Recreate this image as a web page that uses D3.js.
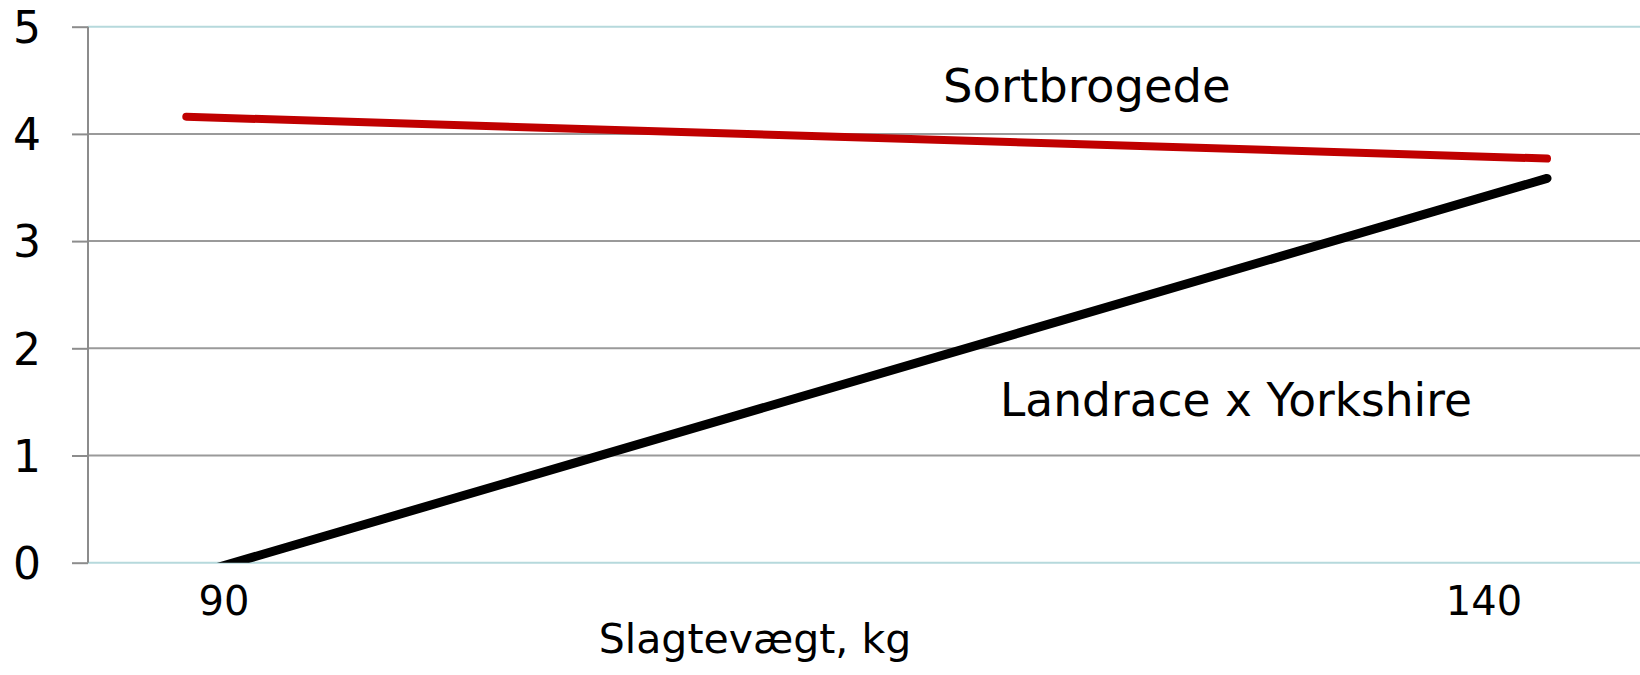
<!DOCTYPE html>
<html>
<head>
<meta charset="utf-8">
<script src="https://cdn.jsdelivr.net/npm/d3@7"></script>
<style>
  body { margin: 0; background: #fff; }
  text { font-family: "DejaVu Sans", sans-serif; fill: #000; }
</style>
</head>
<body>
<div id="chart"></div>
<script>
// data
var xValues = [88.5, 142.5];          // slagtevægt, kg (line end points)
var sortbrogede = [4.16, 3.77];
var landrace = [-0.13, 3.585];         // first point sits just below 0, clipped by the axis
var xTicks = [90, 140];
var yTicks = [0, 1, 2, 3, 4, 5];
var seriesNames = ["Sortbrogede", "Landrace x Yorkshire"];
var xTitle = "Slagtevægt, kg";

var width = 1640, height = 675;
var margin = {top: 26.7, right: 0, bottom: 112.3, left: 88};
var innerW = width - margin.left - margin.right,
    innerH = height - margin.top - margin.bottom;

var svg = d3.select("#chart").append("svg")
    .attr("width", width)
    .attr("height", height);

var g = svg.append("g")
    .attr("transform", "translate(" + margin.left + "," + margin.top + ")");

// scales
var x = d3.scaleLinear().domain([84.6, 146.19]).range([0, innerW]);
var y = d3.scaleLinear().domain([0, 5]).range([innerH, 0]);

// clip so values below 0 are cut at the axis
svg.append("defs").append("clipPath").attr("id", "plot")
  .append("rect").attr("x", -20).attr("y", -20)
    .attr("width", innerW + 40).attr("height", innerH + 20);

// gridlines
g.selectAll("line.grid").data(yTicks).enter().append("line")
    .attr("class", "grid")
    .attr("x1", 0).attr("x2", innerW)
    .attr("y1", function(d) { return y(d); })
    .attr("y2", function(d) { return y(d); })
    .style("stroke", function(d) { return (d == 0 || d == 5) ? "#b6d9dc" : "#9a9a9a"; })
    .style("stroke-width", 2);

// y axis
var yAxis = g.append("g")
    .call(d3.axisLeft(y).tickValues(yTicks).tickSize(16).tickFormat(d3.format("d")));
yAxis.select(".domain").style("stroke", "#8c8c8c").style("stroke-width", 2)
    .attr("d", "M0," + y(5) + "V" + y(0));
yAxis.selectAll(".tick line").style("stroke", "#8c8c8c").style("stroke-width", 2);
yAxis.selectAll(".tick text")
    .style("font-size", "44px")
    .attr("dy", "0.36em")
    .attr("x", -47);

// x tick labels
g.selectAll("text.xlab").data(xTicks).enter().append("text")
    .attr("class", "xlab")
    .attr("x", function(d) { return x(d); })
    .attr("y", 615 - margin.top)
    .attr("text-anchor", "middle")
    .style("font-size", "40px")
    .text(function(d) { return d; });

// x axis title
g.append("text")
    .attr("x", 755 - margin.left)
    .attr("y", 653 - margin.top)
    .attr("text-anchor", "middle")
    .style("font-size", "41px")
    .text(xTitle);

// lines
var line = d3.line()
    .x(function(d, i) { return x(xValues[i]); })
    .y(function(d) { return y(d); });

var lines = g.append("g").attr("clip-path", "url(#plot)");

lines.append("path")
    .datum(landrace)
    .attr("d", line)
    .style("fill", "none")
    .style("stroke", "#000")
    .style("stroke-width", 9)
    .style("stroke-linecap", "round");

lines.append("path")
    .datum(sortbrogede)
    .attr("d", line)
    .style("fill", "none")
    .style("stroke", "#c00000")
    .style("stroke-width", 8)
    .style("stroke-linecap", "round");

// series labels
svg.append("text")
    .attr("x", 943).attr("y", 102)
    .style("font-size", "46.5px")
    .text(seriesNames[0]);

svg.append("text")
    .attr("x", 1000).attr("y", 416)
    .style("font-size", "45.5px")
    .text(seriesNames[1]);
</script>
</body>
</html>
